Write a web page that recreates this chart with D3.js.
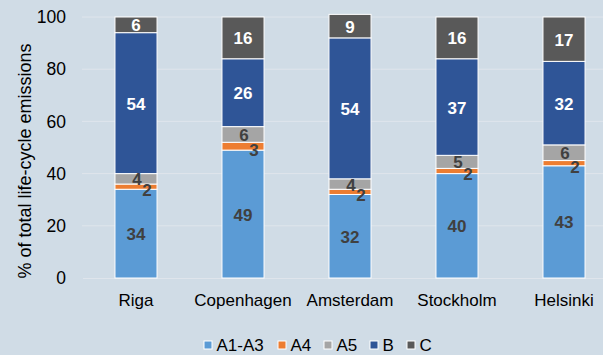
<!DOCTYPE html>
<html>
<head>
<meta charset="utf-8">
<script src="https://cdn.jsdelivr.net/npm/d3@7"></script>
<style>
  html, body { margin: 0; padding: 0; background: #d0dce6; }
  svg { display: block; font-family: "Liberation Sans", Arial, sans-serif; }
</style>
</head>
<body>
<svg id="chart" width="603" height="355"></svg>
<script>
// Share of total life-cycle emissions by stage, per city
const cities = ["Riga", "Copenhagen", "Amsterdam", "Stockholm", "Helsinki"];
const stages = ["A1-A3", "A4", "A5", "B", "C"];
const a1a3 = [34, 49, 32, 40, 43];
const a4   = [2, 3, 2, 2, 2];
const a5   = [4, 6, 4, 5, 6];
const b    = [54, 26, 54, 37, 32];
const c    = [6, 16, 9, 16, 17];
const yTicks = [0, 20, 40, 60, 80, 100];

const colors = {"A1-A3": "#5b9bd5", "A4": "#ed7d31", "A5": "#a5a5a5", "B": "#2f5597", "C": "#595959"};
const labelColors = {"A1-A3": "#404040", "A4": "#404040", "A5": "#404040", "B": "#ffffff", "C": "#ffffff"};
// small nudges so the thin-segment labels don't collide
const labelOffset = {"A1-A3": [0, 1], "A4": [11, 4], "A5": [1, 1], "B": [0, 1], "C": [0, 1]};

const rows = cities.map((city, i) => ({
  city, "A1-A3": a1a3[i], "A4": a4[i], "A5": a5[i], "B": b[i], "C": c[i]
}));

const FONT = "Liberation Sans, Arial, sans-serif";
const svg = d3.select("#chart");
const x = d3.scaleBand().domain(cities).range([82.5, 617.5]).paddingInner(0.607).paddingOuter(0.3035);
const y = d3.scaleLinear().domain([0, 100]).range([278, 17]);

// gridlines
svg.append("g").selectAll("line").data(yTicks.filter(t => t > 0)).join("line")
  .attr("x1", 82).attr("x2", 603)
  .attr("y1", d => y(d)).attr("y2", d => y(d))
  .attr("stroke", "#dfe5ec").attr("stroke-width", 1);

// y axis
const yAxis = svg.append("g").attr("transform", "translate(82,0)")
  .call(d3.axisLeft(y).tickValues(yTicks).tickSize(0).tickPadding(16));
yAxis.select(".domain").remove();
yAxis.selectAll("text").attr("font-size", 17.5).attr("fill", "#000").attr("font-family", FONT);

// x axis labels
const xAxis = svg.append("g").attr("transform", "translate(0,278)")
  .call(d3.axisBottom(x).tickSize(0).tickPadding(16));
xAxis.select(".domain").attr("stroke", "#dfe5ec");
xAxis.selectAll("text").attr("font-size", 17).attr("fill", "#000").attr("font-family", FONT);

// axis title
svg.append("text")
  .attr("transform", "translate(31,161) rotate(-90)")
  .attr("text-anchor", "middle")
  .attr("font-size", 18).attr("fill", "#000")
  .text("% of total life-cycle emissions");

const series = d3.stack().keys(stages)(rows);

const groups = svg.append("g").selectAll("g").data(series).join("g")
  .attr("fill", d => colors[d.key]);

groups.selectAll("rect").data(d => d).join("rect")
  .attr("x", d => x(d.data.city))
  .attr("width", x.bandwidth())
  .attr("y", d => y(d[1]))
  .attr("height", d => y(d[0]) - y(d[1]))
  .attr("stroke", "#ffffff").attr("stroke-width", 1);

// value labels
const labels = svg.append("g");
series.forEach(s => {
  s.forEach(d => {
    const off = labelOffset[s.key];
    labels.append("text")
      .attr("x", x(d.data.city) + x.bandwidth() / 2 + off[0])
      .attr("y", (y(d[0]) + y(d[1])) / 2 + off[1])
      .attr("text-anchor", "middle").attr("dominant-baseline", "central")
      .attr("font-size", 17).attr("font-weight", "bold")
      .attr("fill", labelColors[s.key])
      .text(d.data[s.key]);
  });
});

// legend
const legendItems = [
  {key: "A1-A3", x: 204},
  {key: "A4", x: 278},
  {key: "A5", x: 324},
  {key: "B", x: 370},
  {key: "C", x: 407}
];
const lg = svg.append("g").selectAll("g").data(legendItems).join("g")
  .attr("transform", d => `translate(${d.x},345)`);
lg.append("rect").attr("x", 0).attr("y", -4).attr("width", 8).attr("height", 8)
  .attr("fill", d => colors[d.key]).attr("stroke", "#ffffff").attr("stroke-width", 1);
lg.append("text").attr("x", 12.5).attr("y", 0).attr("dominant-baseline", "central")
  .attr("font-size", 17).attr("fill", "#000").attr("font-family", FONT).text(d => d.key);
</script>
</body>
</html>
